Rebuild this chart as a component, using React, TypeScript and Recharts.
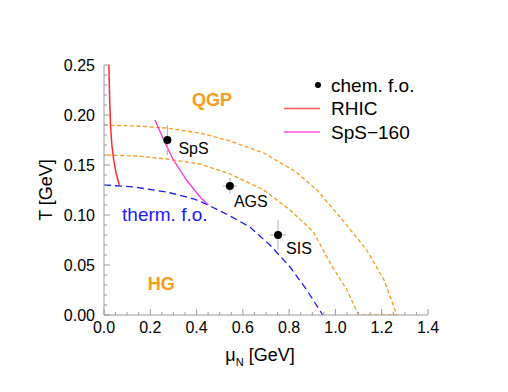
import React from "react";
import { ComposedChart, Line, Scatter, XAxis, YAxis, ErrorBar } from "recharts";

// axis ticks (major, labelled)
const MU_MAJOR = [0, 0.2, 0.4, 0.6, 0.8, 1.0, 1.2, 1.4];
const T_MAJOR = [0, 0.05, 0.1, 0.15, 0.2, 0.25];

// QGP band: outer boundary down to T=0, along the axis, back up the inner boundary
const QGP_BAND = [
  { mu: 0, T: 0.19 },
  { mu: 0.14, T: 0.189 },
  { mu: 0.27, T: 0.187 },
  { mu: 0.415, T: 0.182 },
  { mu: 0.545, T: 0.174 },
  { mu: 0.69, T: 0.162 },
  { mu: 0.83, T: 0.143 },
  { mu: 0.92, T: 0.125 },
  { mu: 1.02, T: 0.098 },
  { mu: 1.135, T: 0.065 },
  { mu: 1.21, T: 0.035 },
  { mu: 1.265, T: 0 },
  { mu: 1.1, T: 0 },
  { mu: 1.05, T: 0.025 },
  { mu: 0.977, T: 0.052 },
  { mu: 0.905, T: 0.083 },
  { mu: 0.804, T: 0.105 },
  { mu: 0.69, T: 0.125 },
  { mu: 0.545, T: 0.141 },
  { mu: 0.415, T: 0.151 },
  { mu: 0.27, T: 0.156 },
  { mu: 0.14, T: 0.159 },
  { mu: 0, T: 0.16 },
];

const THERMAL_FO = [
  { mu: 0, T: 0.13 },
  { mu: 0.13, T: 0.128 },
  { mu: 0.27, T: 0.123 },
  { mu: 0.39, T: 0.116 },
  { mu: 0.45, T: 0.11 },
  { mu: 0.545, T: 0.099 },
  { mu: 0.63, T: 0.088 },
  { mu: 0.717, T: 0.07 },
  { mu: 0.804, T: 0.048 },
  { mu: 0.876, T: 0.025 },
  { mu: 0.945, T: 0 },
];

const RHIC = [
  { mu: 0.021, T: 0.25 },
  { mu: 0.024, T: 0.22 },
  { mu: 0.028, T: 0.19 },
  { mu: 0.034, T: 0.17 },
  { mu: 0.042, T: 0.155 },
  { mu: 0.052, T: 0.142 },
  { mu: 0.066, T: 0.13 },
];

const SPS_160 = [
  { mu: 0.22, T: 0.195 },
  { mu: 0.264, T: 0.172 },
  { mu: 0.3, T: 0.155 },
  { mu: 0.357, T: 0.135 },
  { mu: 0.415, T: 0.118 },
  { mu: 0.451, T: 0.11 },
];

const CHEM_FO = [
  { name: "SpS", mu: 0.274, T: 0.175, dMu: 0, dT: 0.015 },
  { name: "AGS", mu: 0.544, T: 0.129, dMu: 0.032, dT: 0.008 },
  { name: "SIS", mu: 0.752, T: 0.08, dMu: 0.035, dT: 0.015 },
];

const REGION_LABELS = [
  { text: "QGP", mu: 0.467, T: 0.209 },
  { text: "HG", mu: 0.247, T: 0.025 },
  { text: "therm. f.o.", mu: 0.078, T: 0.094 },
];

const FONT = '"Liberation Sans", Arial, Helvetica, sans-serif';
const FRAME = "#9a9a9a";
const ORANGE = "#ff9a1a";
const BLUE = "#1a1aff";

const LABEL_STYLE: Record<string, { dx: number; dy: number; color: string; size: number; bold?: boolean; anchor: string }> = {
  SpS: { dx: 11, dy: 14, color: "#000", size: 16, anchor: "start" },
  AGS: { dx: 4, dy: 21, color: "#000", size: 16, anchor: "start" },
  SIS: { dx: 8, dy: 19, color: "#000", size: 16, anchor: "start" },
  QGP: { dx: 0, dy: 0, color: ORANGE, size: 18, bold: true, anchor: "middle" },
  HG: { dx: 0, dy: 0, color: ORANGE, size: 18, bold: true, anchor: "middle" },
  "therm. f.o.": { dx: 0, dy: 0, color: BLUE, size: 19, anchor: "start" },
};

function withMinor(major: number[], n: number) {
  const out: number[] = [];
  for (let i = 0; i < major.length - 1; i++) {
    for (let k = 0; k < n; k++) out.push(major[i] + ((major[i + 1] - major[i]) * k) / n);
  }
  out.push(major[major.length - 1]);
  return out;
}

const MU_TICKS = withMinor(MU_MAJOR, 4);
const T_TICKS = withMinor(T_MAJOR, 5);

const isMajor = (v: number, major: number[]) => major.some((m) => Math.abs(m - v) < 1e-6);

function BottomTick({ x, y, payload }: any) {
  const major = isMajor(payload.value, MU_MAJOR);
  return (
    <g>
      <line x1={x} y1={y} x2={x} y2={y - (major ? 6 : 3)} stroke={FRAME} />
      {major && (
        <text x={x} y={y + 18} textAnchor="middle" fontSize={16} fontFamily={FONT} fill="#000">
          {payload.value.toFixed(1)}
        </text>
      )}
    </g>
  );
}

function TopTick({ x, y, payload }: any) {
  const major = isMajor(payload.value, MU_MAJOR);
  return <line x1={x} y1={y} x2={x} y2={y + (major ? 6 : 3)} stroke={FRAME} />;
}

function LeftTick({ x, y, payload }: any) {
  const major = isMajor(payload.value, T_MAJOR);
  return (
    <g>
      <line x1={x} y1={y} x2={x + (major ? 6 : 3)} y2={y} stroke={FRAME} />
      {major && (
        <text x={x - 9} y={y} dy="0.35em" textAnchor="end" fontSize={16} fontFamily={FONT} fill="#000">
          {payload.value.toFixed(2)}
        </text>
      )}
    </g>
  );
}

function RightTick({ x, y, payload }: any) {
  const major = isMajor(payload.value, T_MAJOR);
  return <line x1={x} y1={y} x2={x - (major ? 6 : 3)} y2={y} stroke={FRAME} />;
}

function ChemDot(props: any) {
  const { cx, cy, payload } = props;
  const s = LABEL_STYLE[payload.name];
  return (
    <g>
      <circle cx={cx} cy={cy} r={4} fill="#000" />
      <text x={cx + s.dx} y={cy + s.dy} fontSize={s.size} fontFamily={FONT} fill={s.color} textAnchor={s.anchor}>
        {payload.name}
      </text>
    </g>
  );
}

function RegionText(props: any) {
  const { cx, cy, payload } = props;
  const s = LABEL_STYLE[payload.text];
  return (
    <text
      x={cx + s.dx}
      y={cy + s.dy}
      fontSize={s.size}
      fontWeight={s.bold ? "bold" : "normal"}
      fontFamily={FONT}
      fill={s.color}
      textAnchor={s.anchor}
    >
      {payload.text}
    </text>
  );
}

function MuLabel({ viewBox }: any) {
  const cx = viewBox.x + viewBox.width / 2 - 6;
  return (
    <text x={cx} y={viewBox.y + 46} textAnchor="middle" fontSize={18} fontFamily={FONT} fill="#000">
      μ<tspan fontSize={11} dy={5}>N</tspan>
      <tspan dy={-5}> [GeV]</tspan>
    </text>
  );
}

function TLabel({ viewBox }: any) {
  const x = viewBox.x + 10;
  const y = viewBox.y + viewBox.height / 2;
  return (
    <text x={x} y={y} transform={`rotate(-90, ${x}, ${y})`} textAnchor="middle" fontSize={18} fontFamily={FONT} fill="#000">
      T [GeV]
    </text>
  );
}

const LEGEND = [
  { name: "chem. f.o.", kind: "dot", color: "#000" },
  { name: "RHIC", kind: "line", color: "#ff5a5a" },
  { name: "SpS\u2212160", kind: "line", color: "#ff55dd" },
];

export default function App() {
  return (
    <div style={{ position: "relative", width: 500, height: 384 }}>
      <ComposedChart width={500} height={384} margin={{ top: 57, right: 80, bottom: 0, left: 34 }}>
        <XAxis
          dataKey="mu"
          type="number"
          domain={[0, 1.4]}
          ticks={MU_TICKS}
          interval={0}
          height={77}
          tickSize={0}
          tickMargin={0}
          tickLine={false}
          tick={<BottomTick />}
          axisLine={{ stroke: FRAME }}
          allowDataOverflow
          label={<MuLabel />}
        />
        <XAxis
          xAxisId="top"
          orientation="top"
          type="number"
          domain={[0, 1.4]}
          ticks={MU_TICKS}
          interval={0}
          height={0}
          tickSize={0}
          tickMargin={0}
          tickLine={false}
          tick={<TopTick />}
          axisLine={{ stroke: FRAME }}
        />
        <YAxis
          dataKey="T"
          type="number"
          domain={[0, 0.25]}
          ticks={T_TICKS}
          interval={0}
          width={62}
          tickSize={0}
          tickMargin={0}
          tickLine={false}
          tick={<LeftTick />}
          axisLine={{ stroke: FRAME }}
          allowDataOverflow
          label={<TLabel />}
        />
        <YAxis
          yAxisId="right"
          orientation="right"
          type="number"
          domain={[0, 0.25]}
          ticks={T_TICKS}
          interval={0}
          width={0}
          tickSize={0}
          tickMargin={0}
          tickLine={false}
          tick={<RightTick />}
          axisLine={{ stroke: FRAME }}
        />
        <Line data={QGP_BAND} dataKey="T" stroke={ORANGE} strokeWidth={1.3} strokeDasharray="4 2.5" dot={false} isAnimationActive={false} />
        <Line data={THERMAL_FO} dataKey="T" stroke={BLUE} strokeWidth={1.3} strokeDasharray="7 4" dot={false} isAnimationActive={false} />
        <Line data={RHIC} dataKey="T" stroke="#ff2a2a" strokeWidth={1.5} dot={false} isAnimationActive={false} />
        <Line data={SPS_160} dataKey="T" stroke="#ff33dd" strokeWidth={1.3} dot={false} isAnimationActive={false} />
        <Scatter data={REGION_LABELS} dataKey="T" shape={<RegionText />} isAnimationActive={false} />
        <Scatter data={CHEM_FO} dataKey="T" shape={<ChemDot />} isAnimationActive={false}>
          <ErrorBar dataKey="dT" direction="y" width={0} stroke="#b0b0b0" strokeWidth={1} />
          <ErrorBar dataKey="dMu" direction="x" width={0} stroke="#b0b0b0" strokeWidth={1} />
        </Scatter>
      </ComposedChart>
      <svg width={500} height={384} style={{ position: "absolute", left: 0, top: 0, pointerEvents: "none" }}>
        {LEGEND.map((item, i) => {
          const y = 77 + i * 23.5;
          return (
            <g key={item.name}>
              {item.kind === "dot" ? (
                <circle cx={310} cy={y} r={3} fill={item.color} />
              ) : (
                <line x1={276} x2={312} y1={y} y2={y} stroke={item.color} strokeWidth={1.5} />
              )}
              <text x={323} y={y} dy="0.35em" fontSize={19} fontFamily={FONT} fill="#000">
                {item.name}
              </text>
            </g>
          );
        })}
      </svg>
    </div>
  );
}
